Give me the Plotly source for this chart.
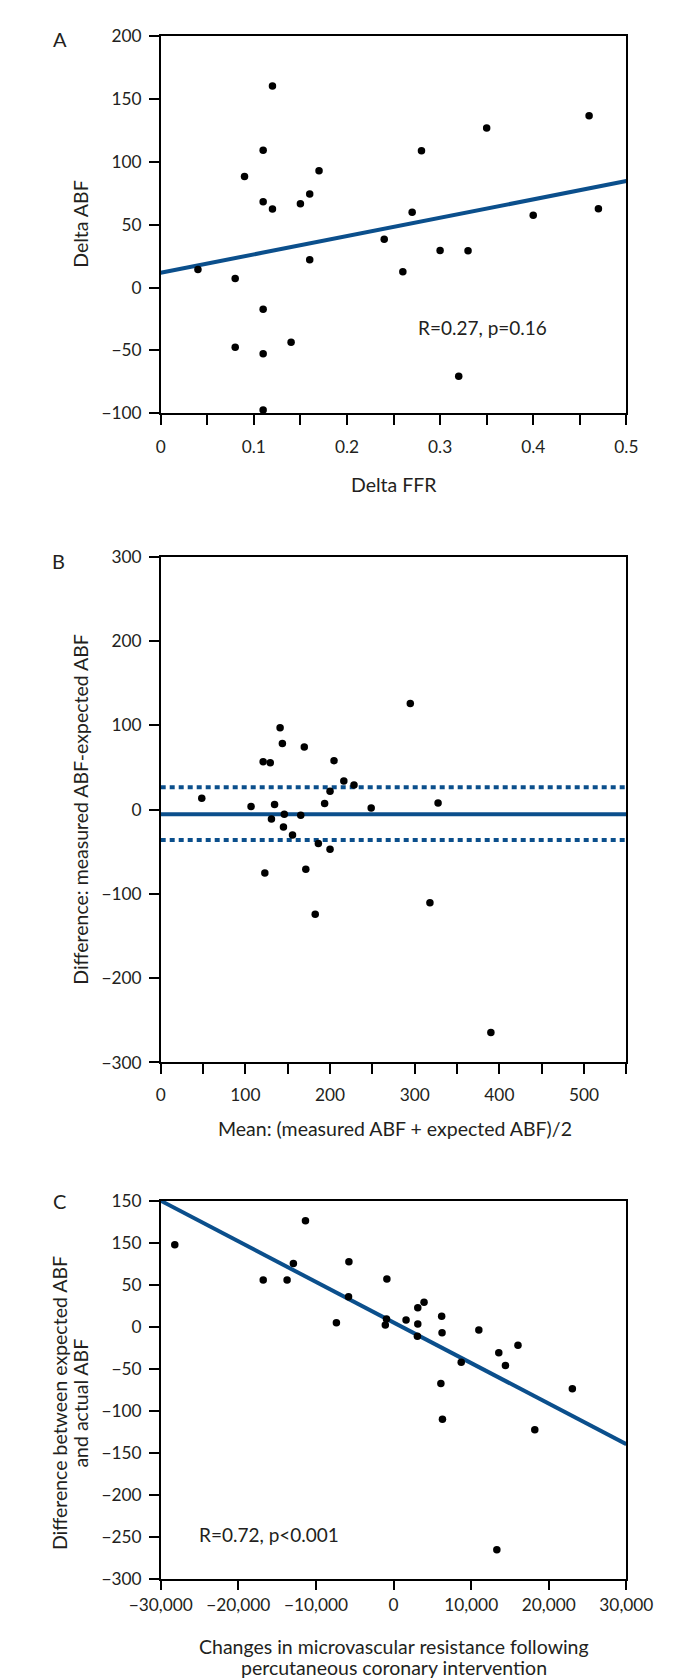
import plotly.graph_objects as go

W, H = 673, 1679

# ---------------- Data ----------------
# Panel A: Delta FFR vs Delta ABF
a_x = [0.04, 0.08, 0.11, 0.09, 0.11, 0.11, 0.12, 0.12, 0.15, 0.16, 0.17, 0.16, 0.24, 0.26,
       0.27, 0.28, 0.30, 0.33, 0.35, 0.40, 0.46, 0.47, 0.08, 0.11, 0.14, 0.32, 0.11]
a_y = [14.4, 7.3, -17.3, 88.4, 109.3, 68.2, 160.3, 62.5, 66.7, 74.5, 92.8, 22.2, 38.4, 12.5,
       59.9, 108.8, 29.5, 29.3, 126.8, 57.5, 136.7, 62.7, -47.4, -52.6, -43.4, -70.5, -97.4]
a_fit_x = [0, 0.5]
a_fit_y = [11.8, 84.7]
a_text = "R=0.27, p=0.16"

# Panel B: Bland-Altman
b_x = [48.5, 106.7, 121, 129.4, 134.5, 130.8, 141, 143.7, 146, 145, 165.4, 169.6, 193.6, 200,
       204.7, 216.3, 228.3, 248.6, 294.8, 327.6, 155.7, 186.2, 200, 123, 171.4, 182.5, 318, 390]
b_y = [13.7, 3.9, 57, 55.8, 6.2, -11, 97.2, 78.4, -5.3, -20.5, -6.6, 74.5, 7.4, 21.8,
       58.1, 33.9, 29.3, 2.0, 126, 7.8, -30, -40, -46.9, -75, -70.7, -124, -110.5, -264.5]
b_mean = -5.5
b_upper = 26.5
b_lower = -36
b_line_x = [0, 550]

# Panel C: change in microvascular resistance vs ABF difference
c_x = [-28185, -11345, -16790, -13714, -12907, -5748, -5798, -7361, -857, -908, -1059, 1613,
       3126, 3933, 3126, 3076, 6202, 6252, 10992, 8723, 13563, 14420, 16034, 6101, 6303,
       23042, 18202, 13311]
c_y = [97.6, 126.3, 55.7, 55.7, 75.3, 77.3, 35.7, 4.7, 56.9, 9.0, 2.0, 7.8,
       22.4, 29.0, 3.1, -11.4, 12.5, -7.1, -3.9, -42.4, -31, -46.3, -22, -67.6, -110.4,
       -73.9, -122.9, -265.7]
c_fit_x = [-30000, 30000]
c_fit_y = [150, -140]
c_text = "R=0.72, p<0.001"
c_yticks = [150, 100, 50, 0, -50, -100, -150, -200, -250, -300]
c_yticklabels = ["150", "150", "50", "0", "\u221250", "\u2212100", "\u2212150", "\u2212200", "\u2212250", "\u2212300"]

# ---------------- Style ----------------
FONT = "Lato"
TXT = "#231f20"
BLUE = "#0b4f8c"
MS = 7.5
TICK_SIZE = 17.3
TITLE_SIZE = 19.5

def px_x(p):
    return p / W

def px_y(p):
    return 1 - p / H

x_dom = [px_x(132.3), px_x(642.7)]
dom_a = [px_y(399.3), px_y(17.3)]
dom_b = [px_y(1056.7), px_y(544.7)]
dom_c = [px_y(1579.3), px_y(1196.7)]

fig = go.Figure()

def dots(x, y, xa, ya):
    fig.add_trace(go.Scatter(x=x, y=y, mode="markers", xaxis=xa, yaxis=ya,
                             marker=dict(color="black", size=MS), cliponaxis=False,
                             showlegend=False, hoverinfo="skip"))

def line(x, y, xa, ya, dash="solid"):
    fig.add_trace(go.Scatter(x=x, y=y, mode="lines", xaxis=xa, yaxis=ya,
                             line=dict(color=BLUE, width=4, dash=dash),
                             showlegend=False, hoverinfo="skip"))

# A
line(a_fit_x, a_fit_y, "x", "y")
dots(a_x, a_y, "x", "y")
# B
line(b_line_x, [b_upper, b_upper], "x2", "y2", dash="5px,4px")
line(b_line_x, [b_lower, b_lower], "x2", "y2", dash="5px,4px")
line(b_line_x, [b_mean, b_mean], "x2", "y2")
dots(b_x, b_y, "x2", "y2")
# C
line(c_fit_x, c_fit_y, "x3", "y3")
dots(c_x, c_y, "x3", "y3")

tickfont = dict(family=FONT, size=TICK_SIZE, color=TXT)
axis_common = dict(showline=True, linecolor="black", linewidth=1.5, mirror=True,
                   ticks="outside", ticklen=10, tickwidth=1.5, tickcolor="black",
                   showgrid=False, zeroline=False, tickfont=tickfont)
minor_common = dict(ticks="outside", ticklen=10, tickwidth=1.5, tickcolor="black")

fig.update_layout(
    width=W, height=H, margin=dict(l=0, r=0, t=0, b=0),
    paper_bgcolor="white", plot_bgcolor="white",
    font=dict(family=FONT, color=TXT),
    xaxis=dict(domain=x_dom, anchor="y", range=[0, 0.5], tickvals=[0, 0.1, 0.2, 0.3, 0.4, 0.5],
               ticktext=["0", "0.1", "0.2", "0.3", "0.4", "0.5"], ticklabelstandoff=7,
               minor=dict(dtick=0.05, tick0=0, **minor_common), **axis_common),
    yaxis=dict(domain=dom_a, anchor="x", range=[-100, 200], dtick=50, ticklabelstandoff=4,
               **axis_common),
    xaxis2=dict(domain=x_dom, anchor="y2", range=[0, 550], tickvals=[0, 100, 200, 300, 400, 500],
                ticklabelstandoff=6, minor=dict(dtick=50, tick0=0, **minor_common), **axis_common),
    yaxis2=dict(domain=dom_b, anchor="x2", range=[-300, 300], dtick=100, ticklabelstandoff=4,
                **axis_common),
    xaxis3=dict(domain=x_dom, anchor="y3", range=[-30000, 30000], dtick=10000, tickformat=",",
                ticklabelstandoff=0, **axis_common),
    yaxis3=dict(domain=dom_c, anchor="x3", range=[-300, 150], tickvals=c_yticks,
                ticktext=c_yticklabels, ticklabelstandoff=4, **axis_common),
)

def ann(text, x, y, size=TITLE_SIZE, angle=0, xref="paper", yref="paper"):
    fig.add_annotation(text=text, x=x, y=y, xref=xref, yref=yref, showarrow=False,
                       textangle=angle, font=dict(family=FONT, size=size, color=TXT),
                       xanchor="center", yanchor="middle")

# Panel letters
ann("A", px_x(21.5), px_y(20.3), size=20)
ann("B", px_x(20.6), px_y(549.3), size=20)
ann("C", px_x(21.5), px_y(1197.3), size=20)

# Axis titles
ann("Delta ABF", px_x(45), px_y(208.3), angle=-90)
ann("Delta FFR", px_x(388), px_y(471.7))
ann("Difference: measured ABF-expected ABF", px_x(45), px_y(800.7), angle=-90)
ann("Mean: (measured ABF + expected ABF)/2", px_x(389), px_y(1123.3))
ann("Difference between expected ABF", px_x(21.5), px_y(1402), angle=-90)
ann("and actual ABF", px_x(44), px_y(1402), angle=-90)
ann("Changes in microvascular resistance following", px_x(388), px_y(1647.7))
ann("percutaneous coronary intervention", px_x(388), px_y(1669.3))

# Statistics text
ann(a_text, 0.345, -31.4, size=19, xref="x", yref="y")
ann(c_text, -16000, -248, size=19, xref="x3", yref="y3")

fig.write_html("out.html")
